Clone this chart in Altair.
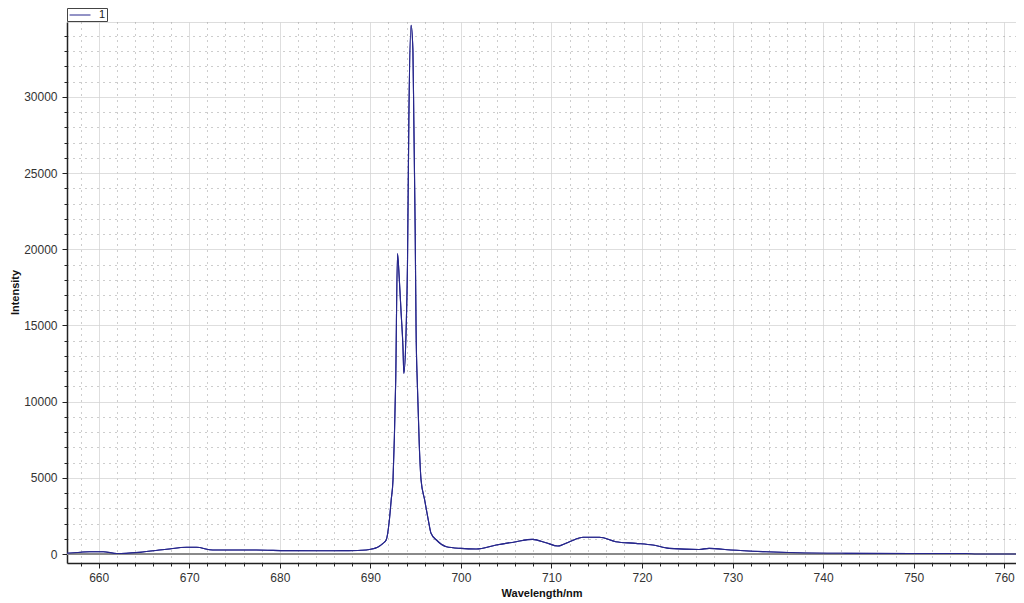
import altair as alt
import pandas as pd

# Spectrum
wavelength = [656.5, 658.0, 659.0, 660.5, 662.0, 664.5, 667.5, 669.7, 670.8, 672.6,
              677.4, 680.7, 684.0, 687.0, 689.0, 689.9, 690.8, 691.4, 691.75, 692.1,
              692.3, 692.5, 692.65, 692.8, 693.0, 693.2, 693.4, 693.6, 693.7, 693.95, 694.1,
              694.25, 694.5, 694.7, 694.8, 694.95, 695.05, 695.2, 695.4, 695.6, 696.0, 696.4,
              696.7, 697.3, 698.4, 700.0, 701.7, 703.9, 706.1, 707.9, 709.4, 710.7,
              712.0, 713.5, 715.3, 717.1, 719.3, 721.2, 723.0, 726.3, 727.4, 729.8,
              733.7, 737.0, 742.5, 749.8, 755.8, 757.0, 761.3]
intensity = [50, 120, 150, 150, 30, 110, 310, 440, 440, 260,
             260, 220, 210, 220, 250, 300, 450, 700, 920, 2230,
             3540, 4850, 7600, 11400, 19720, 18000, 15800, 13600, 11850, 14700, 19000,
             28470, 34700, 33060, 28470, 21250, 14700, 10970, 7200, 4850, 3540, 2230,
             1360, 920, 480, 370, 330, 590, 810, 960, 740, 525,
             810, 1100, 1100, 810, 700, 590, 370, 300, 370, 260,
             150, 85, 45, 30, 30, 5, 5]
series = ["1"] * len(wavelength)

x_ticks = list(range(658, 762, 2))
y_ticks = list(range(0, 35000, 1000))

df = pd.DataFrame({"wavelength": wavelength, "intensity": intensity, "series": series})

FONT = "Liberation Sans"
LINE = "#26268c"
MINOR_DOT = "#9a9a9a"
MAJOR_GRID = "#d2d2d2"

x_enc = alt.X(
    "wavelength:Q",
    scale=alt.Scale(domain=[656.5, 761.3], nice=False, zero=False),
    axis=alt.Axis(
        title="Wavelength/nm",
        values=x_ticks,
        tickCount=200,
        format="d",
        labelExpr="datum.value % 10 === 0 ? datum.label : ''",
        labelOverlap=False,
        grid=True,
        gridColor={"condition": {"test": "datum.value % 10 === 0", "value": MAJOR_GRID}, "value": MINOR_DOT},
        gridDash={"condition": {"test": "datum.value % 10 === 0", "value": [1, 0]}, "value": [1, 5]},
        tickSize={"condition": {"test": "datum.value % 10 === 0", "value": 5}, "value": 3},
        tickColor="#222",
        domainColor="#222",
        domainWidth=1.5,
        labelFont=FONT, labelFontSize=12, labelColor="#333", labelPadding=4,
        titleFont=FONT, titleFontSize=11, titleFontWeight="bold", titleColor="#111",
        titlePadding=4,
    ),
)
y_enc = alt.Y(
    "intensity:Q",
    scale=alt.Scale(domain=[-590, 34920], nice=False, zero=False),
    axis=alt.Axis(
        title="Intensity",
        values=y_ticks,
        tickCount=200,
        format="d",
        labelExpr="datum.value % 5000 === 0 ? datum.label : ''",
        labelOverlap=False,
        grid=True,
        gridColor={"condition": {"test": "datum.value % 5000 === 0", "value": MAJOR_GRID}, "value": MINOR_DOT},
        gridDash={"condition": {"test": "datum.value % 5000 === 0", "value": [1, 0]}, "value": [1, 5]},
        tickSize={"condition": {"test": "datum.value % 5000 === 0", "value": 5}, "value": 3},
        tickColor="#222",
        domainColor="#222",
        domainWidth=1.5,
        labelFont=FONT, labelFontSize=12, labelColor="#333", labelPadding=5,
        titleFont=FONT, titleFontSize=11, titleFontWeight="bold", titleColor="#111",
        titleX=-52, titleY=270, titleAlign="center", titleBaseline="middle", titleAngle=270,
    ),
)

zero_rule = alt.Chart(df).mark_rule(color="#8a8a8a", strokeWidth=2).encode(y=alt.datum(0))

line = alt.Chart(df).mark_line(strokeWidth=1.1, interpolate="monotone").encode(
    x=x_enc,
    y=y_enc,
    color=alt.Color(
        "series:N",
        scale=alt.Scale(domain=["1"], range=[LINE]),
        legend=alt.Legend(
            title=None, orient="none", legendX=0, legendY=-14,
            symbolType="M-0.8,0H3", symbolSize=121, symbolStrokeWidth=1,
            labelFont=FONT, labelFontSize=11, labelColor="#222",
            strokeColor="#444", fillColor="white", padding=1,
            labelOffset=19,
        ),
    ),
)

chart = alt.layer(line, zero_rule, line).properties(
    width=949, height=541,
    autosize=alt.AutoSizeParams(type="none"),
    padding={"left": 59, "top": 14, "right": 0, "bottom": 40},
).configure_view(stroke="#333", strokeWidth=1).configure(background="white")

chart.save("out.html", embed_options={"renderer": "svg", "actions": False})
